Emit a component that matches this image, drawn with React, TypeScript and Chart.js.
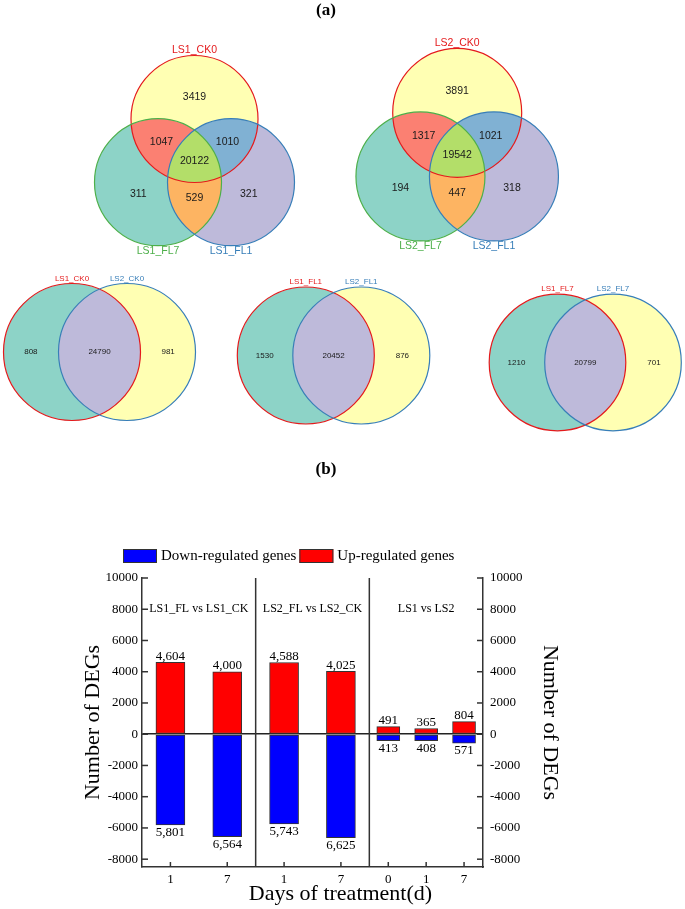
import React, { useEffect, useRef } from 'react';
import { Chart, registerables } from 'chart.js';

Chart.register(...registerables);

// ---------------- (a) Venn data ----------------
// three-set region order: A only, B only, C only, A∩B, A∩C, B∩C, A∩B∩C
const venn3SetsLS1 = ['LS1_CK0', 'LS1_FL7', 'LS1_FL1'];
const venn3CountsLS1 = [3419, 311, 321, 1047, 1010, 529, 20122];
const venn3SetsLS2 = ['LS2_CK0', 'LS2_FL7', 'LS2_FL1'];
const venn3CountsLS2 = [3891, 194, 318, 1317, 1021, 447, 19542];
// two-set region order: left only, right only, both
const venn2SetsCK0 = ['LS1_CK0', 'LS2_CK0'];
const venn2CountsCK0 = [808, 981, 24790];
const venn2SetsFL1 = ['LS1_FL1', 'LS2_FL1'];
const venn2CountsFL1 = [1530, 876, 20452];
const venn2SetsFL7 = ['LS1_FL7', 'LS2_FL7'];
const venn2CountsFL7 = [1210, 701, 20799];

// ---------------- (b) bar data ----------------
const dayLabels = ['1', '7', '1', '7', '0', '1', '7'];
const barPositions = [0.25, 0.75, 1.25, 1.75, 2.1667, 2.5, 2.8333];
const barGroup = [0, 0, 1, 1, 2, 2, 2];
const upRegulated = [4604, 4000, 4588, 4025, 491, 365, 804];
const downRegulated = [5801, 6564, 5743, 6625, 413, 408, 571];
const groupLabels = ['LS1_FL vs LS1_CK', 'LS2_FL vs LS2_CK', 'LS1 vs LS2'];
const groupCenters = [0.5, 1.5, 2.5];
const groupBoundaries = [1, 2];
const yTickValues = [-8000, -6000, -4000, -2000, 0, 2000, 4000, 6000, 8000, 10000];

const SERIF = '"Liberation Serif", "Times New Roman", Times, serif';
const SANS = '"Liberation Sans", Arial, Helvetica, sans-serif';

const FILL = {
  yellow: '#ffffb3', teal: '#8dd3c7', purple: '#bebada', salmon: '#fb8072',
  blue: '#80b1d3', orange: '#fdb462', green: '#b3de69',
};
const LINE = { red: '#e41a1c', green: '#4daf4a', blue: '#377eb8' };

function VennPanel() {
  const ref = useRef<HTMLCanvasElement | null>(null);
  useEffect(() => {
    if (!ref.current) return;
    const W = 685, H = 460, PAD = 75;
    const three = [
      { sets: venn3SetsLS1, counts: venn3CountsLS1, ax: 194.5, ay: 119, R: 63.5, s: 73, font: 10.5 },
      { sets: venn3SetsLS2, counts: venn3CountsLS2, ax: 457.2, ay: 112.8, R: 64.5, s: 73.5, font: 10.5 },
    ].map((v) => {
      const h = (v.s * Math.sqrt(3)) / 2;
      return { ...v, circles: [{ x: v.ax, y: v.ay }, { x: v.ax - v.s / 2, y: v.ay + h }, { x: v.ax + v.s / 2, y: v.ay + h }] };
    });
    const two = [
      { sets: venn2SetsCK0, counts: venn2CountsCK0, cx: 72, cy: 352, R: 68.5, s: 55, font: 8 },
      { sets: venn2SetsFL1, counts: venn2CountsFL1, cx: 305.8, cy: 355.5, R: 68.5, s: 55.5, font: 8 },
      { sets: venn2SetsFL7, counts: venn2CountsFL7, cx: 557.5, cy: 362.5, R: 68.3, s: 55.5, font: 8 },
    ].map((v) => ({ ...v, circles: [{ x: v.cx, y: v.cy }, { x: v.cx + v.s, y: v.cy }] }));

    const datasets: any[] = [];
    three.forEach((v) => {
      datasets.push({
        data: v.circles.map((c) => ({ x: c.x, y: c.y, r: v.R })),
        borderColor: [LINE.red, LINE.green, LINE.blue],
        backgroundColor: 'rgba(0,0,0,0)',
        borderWidth: 1.2,
        hoverRadius: 0,
        hoverBorderWidth: 0,
      });
    });
    two.forEach((v) => {
      datasets.push({
        data: v.circles.map((c) => ({ x: c.x, y: c.y, r: v.R })),
        borderColor: [LINE.red, LINE.blue],
        backgroundColor: 'rgba(0,0,0,0)',
        borderWidth: 1.2,
        hoverRadius: 0,
        hoverBorderWidth: 0,
      });
    });

    const geom = (chart: any, di: number) =>
      chart.getDatasetMeta(di).data.map((el: any) => ({ x: el.x, y: el.y, r: el.options.radius }));

    const plugin = {
      id: 'vennRegions',
      beforeDatasetsDraw(chart: any) {
        const ctx = chart.ctx;
        const path = (p: any) => { ctx.beginPath(); ctx.arc(p.x, p.y, p.r, 0, Math.PI * 2); };
        const region = (clips: any[], target: any, color: string) => {
          ctx.save();
          clips.forEach((c) => { path(c); ctx.clip(); });
          path(target);
          ctx.fillStyle = color;
          ctx.fill();
          ctx.restore();
        };
        three.forEach((_v, vi) => {
          const [a, b, c] = geom(chart, vi);
          region([], a, FILL.yellow);
          region([], b, FILL.teal);
          region([], c, FILL.purple);
          region([a], b, FILL.salmon);
          region([a], c, FILL.blue);
          region([b], c, FILL.orange);
          region([a, b], c, FILL.green);
        });
        two.forEach((_v, vi) => {
          const [l, r] = geom(chart, three.length + vi);
          region([], l, FILL.teal);
          region([], r, FILL.yellow);
          region([l], r, FILL.purple);
        });
      },
      afterDatasetsDraw(chart: any) {
        const ctx = chart.ctx;
        ctx.save();
        ctx.textAlign = 'center';
        ctx.textBaseline = 'middle';
        three.forEach((v, vi) => {
          const [A, B, C] = geom(chart, vi);
          const R = A.r;
          const spots = [
            [A.x, A.y - 0.34 * R], [B.x - 0.31 * R, B.y + 0.18 * R], [C.x + 0.28 * R, C.y + 0.18 * R],
            [A.x - 0.52 * R, A.y + 0.36 * R], [A.x + 0.52 * R, A.y + 0.36 * R],
            [A.x, A.y + 1.245 * R], [A.x, A.y + 0.66 * R],
          ];
          ctx.font = `${v.font}px ${SANS}`;
          ctx.fillStyle = '#1a1a1a';
          spots.forEach(([x, y], i) => ctx.fillText(String(v.counts[i]), x, y));
          const names = [[A.x, A.y - R - 5.5], [B.x, B.y + R + 5.5], [C.x, C.y + R + 5.5]];
          const cols = [LINE.red, LINE.green, LINE.blue];
          names.forEach(([x, y], i) => { ctx.fillStyle = cols[i]; ctx.fillText(v.sets[i], x, y); });
        });
        two.forEach((v, vi) => {
          const [L, Rc] = geom(chart, three.length + vi);
          const R = L.r;
          ctx.font = `${v.font}px ${SANS}`;
          ctx.fillStyle = '#1a1a1a';
          ctx.fillText(String(v.counts[0]), L.x - 0.6 * R, L.y);
          ctx.fillText(String(v.counts[1]), Rc.x + 0.6 * R, Rc.y);
          ctx.fillText(String(v.counts[2]), (L.x + Rc.x) / 2, L.y);
          ctx.fillStyle = LINE.red;
          ctx.fillText(v.sets[0], L.x, L.y - R - 5);
          ctx.fillStyle = LINE.blue;
          ctx.fillText(v.sets[1], Rc.x, Rc.y - R - 5);
        });
        ctx.restore();
      },
    };

    const chart = new Chart(ref.current, {
      type: 'bubble',
      data: { datasets },
      options: {
        responsive: false,
        animation: false,
        events: [],
        clip: false as any,
        layout: { padding: PAD },
        scales: {
          // chart area is inset by PAD on every side; these limits keep 1 unit = 1 px
          x: { type: 'linear', min: PAD, max: W - PAD, display: false },
          y: { type: 'linear', min: PAD, max: H - PAD, reverse: true, display: false },
        },
        plugins: { legend: { display: false }, tooltip: { enabled: false } },
      } as any,
      plugins: [plugin],
    });
    return () => chart.destroy();
  }, []);
  return (
    <canvas ref={ref} width={685} height={460}
      style={{ position: 'absolute', left: 0, top: 0, width: 685, height: 460 }} />
  );
}

function BarPanel() {
  const ref = useRef<HTMLCanvasElement | null>(null);
  useEffect(() => {
    if (!ref.current) return;
    const idx = barPositions.map((_, i) => i);
    const wide = idx.filter((i) => barGroup[i] < 2);
    const narrow = idx.filter((i) => barGroup[i] === 2);
    const pts = (ids: number[], vals: number[], sign: number) => ids.map((i) => ({ x: barPositions[i], y: sign * vals[i] }));
    const common = { borderColor: '#333', borderWidth: 1, borderSkipped: false, grouped: false };
    const BLUE = '#0000ff', RED = '#ff0000';
    const datasets: any[] = [
      { label: 'Down-regulated genes', data: pts(wide, downRegulated, -1), backgroundColor: BLUE, barThickness: 29, ...common },
      { label: 'Up-regulated genes', data: pts(wide, upRegulated, 1), backgroundColor: RED, barThickness: 29, ...common },
      { label: 'Down-regulated genes', data: pts(narrow, downRegulated, -1), backgroundColor: BLUE, barThickness: 23, ...common },
      { label: 'Up-regulated genes', data: pts(narrow, upRegulated, 1), backgroundColor: RED, barThickness: 23, ...common },
    ];
    const AXIS = '#333';

    const deco = {
      id: 'barDeco',
      afterDatasetsDraw(chart: any) {
        const ctx = chart.ctx;
        const area = chart.chartArea;
        const sx = chart.scales.x, sy = chart.scales.y;
        ctx.save();
        ctx.strokeStyle = AXIS;
        ctx.lineWidth = 1.5;
        groupBoundaries.forEach((b) => {
          const p = sx.getPixelForValue(b);
          ctx.beginPath(); ctx.moveTo(p, area.top); ctx.lineTo(p, area.bottom); ctx.stroke();
        });
        ctx.fillStyle = '#000';
        ctx.font = `13px ${SERIF}`;
        ctx.textAlign = 'center';
        ctx.textBaseline = 'alphabetic';
        chart.data.datasets.forEach((ds: any, di: number) => {
          const meta = chart.getDatasetMeta(di);
          meta.data.forEach((el: any, j: number) => {
            const v = ds.data[j].y;
            const txt = Math.abs(v).toLocaleString('en-US');
            if (v >= 0) ctx.fillText(txt, el.x, el.y - 2.5);
            else ctx.fillText(txt, el.x, el.y + 11);
          });
        });
        ctx.font = `12px ${SERIF}`;
        ctx.textBaseline = 'middle';
        groupLabels.forEach((g, i) => ctx.fillText(g, sx.getPixelForValue(groupCenters[i]), sy.getPixelForValue(8000)));
        ctx.restore();
      },
      afterDraw(chart: any) {
        const ctx = chart.ctx;
        const area = chart.chartArea;
        const sx = chart.scales.x, sy = chart.scales.y, sy2 = chart.scales.y2;
        ctx.save();
        ctx.strokeStyle = AXIS;
        ctx.lineWidth = 1.5;
        const line = (x1: number, y1: number, x2: number, y2: number) => { ctx.beginPath(); ctx.moveTo(x1, y1); ctx.lineTo(x2, y2); ctx.stroke(); };
        sy.ticks.forEach((t: any) => { const p = sy.getPixelForValue(t.value); line(area.left, p, area.left + 6, p); });
        sy2.ticks.forEach((t: any) => { const p = sy2.getPixelForValue(t.value); line(area.right - 6, p, area.right, p); });
        sx.ticks.forEach((t: any) => { const p = sx.getPixelForValue(t.value); line(p, area.bottom, p, area.bottom - 5); });
        ctx.fillStyle = '#000';
        ctx.font = `22px ${SERIF}`;
        ctx.textAlign = 'center';
        ctx.textBaseline = 'alphabetic';
        ctx.fillText('Days of treatment(d)', (area.left + area.right) / 2 + 28, area.bottom + 33);
        const items = chart.data.datasets.slice(0, 2);
        ctx.font = `15px ${SERIF}`;
        let x = area.left - 19;
        const yMid = area.top - 22;
        items.forEach((ds: any) => {
          ctx.fillStyle = ds.backgroundColor;
          ctx.fillRect(x, yMid - 7, 34, 14);
          ctx.lineWidth = 1;
          ctx.strokeStyle = '#333';
          ctx.strokeRect(x + 0.5, yMid - 6.5, 33, 13);
          x += 38;
          ctx.fillStyle = '#000';
          ctx.textAlign = 'left';
          ctx.textBaseline = 'middle';
          ctx.fillText(ds.label, x, yMid);
          x += ctx.measureText(ds.label).width + 3;
        });
        ctx.restore();
      },
    };

    const yTickCfg = { color: '#000', font: { family: SERIF, size: 13 }, callback: (v: any) => String(v) };
    const setTicks = (s: any) => { s.ticks = yTickValues.map((v) => ({ value: v })); };
    const chart = new Chart(ref.current, {
      type: 'bar',
      data: { datasets },
      options: {
        responsive: false,
        animation: false,
        events: [],
        layout: { padding: { left: 80, right: 122, top: 48, bottom: 0 } },
        plugins: { legend: { display: false }, tooltip: { enabled: false } },
        scales: {
          x: {
            type: 'linear', min: 0, max: 3, offset: false,
            grid: { display: false, drawTicks: false, offset: false },
            border: { display: true, color: AXIS, width: 1.5 },
            afterBuildTicks: (s: any) => { s.ticks = barPositions.map((v) => ({ value: v })); },
            ticks: {
              autoSkip: false, maxRotation: 0, minRotation: 0, padding: 5, color: '#000',
              font: { family: SERIF, size: 13 }, callback: (_v: any, i: number) => dayLabels[i],
            },
            afterFit: (s: any) => { s.height = 42; },
          },
          y: {
            type: 'linear', position: 'left', min: -8500, max: 10000,
            afterBuildTicks: setTicks,
            grid: {
              drawTicks: false, lineWidth: 1.5,
              color: (c: any) => (c.tick && c.tick.value === 0 ? '#222' : 'rgba(0,0,0,0)'),
            },
            border: { display: true, color: AXIS, width: 1.5 },
            ticks: { ...yTickCfg, padding: 4 },
            title: { display: true, text: 'Number of DEGs', color: '#000', font: { family: SERIF, size: 22 }, padding: { top: 0, bottom: 0 } },
            afterFit: (s: any) => { s.width = 62; },
          },
          y2: {
            type: 'linear', position: 'right', min: -8500, max: 10000,
            afterBuildTicks: setTicks,
            grid: { drawTicks: false, drawOnChartArea: false },
            border: { display: true, color: AXIS, width: 1.5 },
            ticks: { ...yTickCfg, padding: 7 },
            title: { display: true, text: 'Number of DEGs', color: '#000', font: { family: SERIF, size: 22 }, padding: { top: 0, bottom: 0 } },
            afterFit: (s: any) => { s.width = 80; },
          },
        },
      } as any,
      plugins: [deco],
    });
    return () => chart.destroy();
  }, []);
  return (
    <canvas ref={ref} width={685} height={379}
      style={{ position: 'absolute', left: 0, top: 530, width: 685, height: 379 }} />
  );
}

export default function App() {
  const panelTitle: React.CSSProperties = {
    position: 'absolute', left: 276, width: 100, textAlign: 'center',
    fontFamily: SERIF, fontWeight: 'bold', fontSize: 17, lineHeight: '20px', color: '#000',
  };
  return (
    <div style={{ position: 'fixed', left: 0, top: 0, width: 685, height: 909, background: '#fff', overflow: 'hidden' }}>
      <VennPanel />
      <BarPanel />
      <div style={{ ...panelTitle, top: 0 }}>(a)</div>
      <div style={{ ...panelTitle, top: 459 }}>(b)</div>
    </div>
  );
}
